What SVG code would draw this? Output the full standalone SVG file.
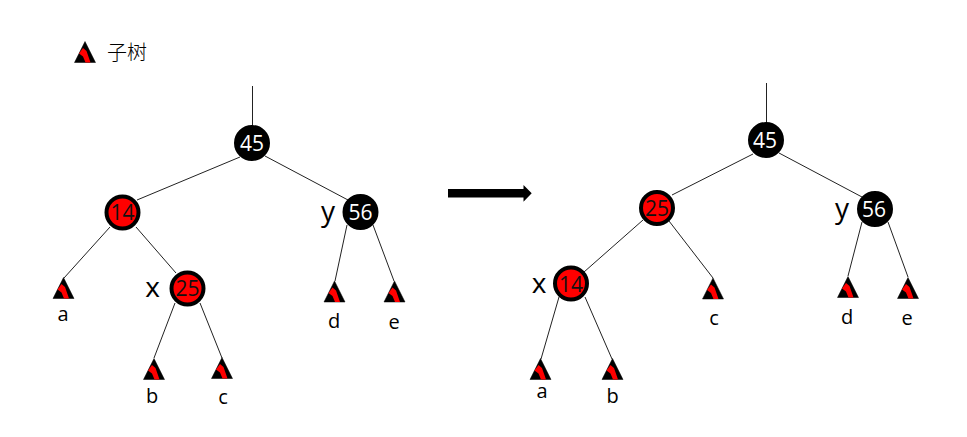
<svg xmlns="http://www.w3.org/2000/svg" width="967" height="437" viewBox="0 0 967 437">
<defs>
<style>
text{font-family:"Open Sans","Noto Sans",sans-serif;text-anchor:middle}
.e{stroke:#222;stroke-width:1;fill:none}
.b{fill:#000;stroke:#000;stroke-width:2}
.r{fill:#f00;stroke:#000;stroke-width:4}
.nt{font-size:21px}
.w{fill:#fff}
.k{fill:#111}
.l{font-size:20px;fill:#000}
.v{font-size:28px;fill:#000}
</style>
<g id="tri">
<path d="M0-10.500L10.500 10.500H-10.500Z" fill="#000" stroke="#000" stroke-width="0.500" stroke-linejoin="round"/>
<path d="M-6 1.500L-2-4L1.500-1L5.500 10.500H0.500L-2 4.500Z" fill="#f00"/>
</g>
</defs>
<rect width="967" height="437" fill="#fff"/>
<g id="connectors">
<path class="e" d="M252.500 86V126M240 157L137 200M265 156L348 200M110 227L64 278M136 227L176 273M175 303L154 358M200 303L222 358M347 225L335 281M373 225L394 281"/>
<path class="e" d="M766.500 83V123M753 154L672 195M779 153L862 197M643 220L584 272M669 221L713 278M559 297L541 359M585 297L612 359M862 222L848 276M888 222L908 277"/>
<path d="M448 189H523.500V185L531.700 193.300L523.500 201.700V197.500H448Z" fill="#000"/>
</g>
<g id="legend"><use href="#tri" x="85" y="52"/><text x="127" y="60" font-size="20" style='font-family:"Noto Sans CJK SC",sans-serif;font-weight:300'>子树</text></g>
<g id="n45"><circle class="b" cx="252" cy="143" r="17"/><text class="nt w" x="252" y="150.500">45</text></g>
<g id="n14"><circle class="r" cx="122.500" cy="212.500" r="16"/><text class="nt k" x="122.500" y="220">14</text></g>
<g id="n56"><circle class="b" cx="360.500" cy="212" r="17"/><text class="nt w" x="360.500" y="219.500">56</text><text class="v" x="328" y="221">y</text></g>
<g id="n25"><circle class="r" cx="187.500" cy="288.500" r="16"/><text class="nt k" x="187.500" y="296">25</text><text class="v" x="152.500" y="297">x</text></g>
<g id="ta"><use href="#tri" x="63.500" y="288"/><text class="l" x="63" y="321">a</text></g>
<g id="tb"><use href="#tri" x="154" y="369"/><text class="l" x="152" y="403">b</text></g>
<g id="tc"><use href="#tri" x="222" y="368"/><text class="l" x="223" y="404">c</text></g>
<g id="td"><use href="#tri" x="334.500" y="291.500"/><text class="l" x="334" y="328">d</text></g>
<g id="te"><use href="#tri" x="394.500" y="291.500"/><text class="l" x="394" y="329">e</text></g>
<g id="m45"><circle class="b" cx="766" cy="140" r="17"/><text class="nt w" x="765" y="147.500">45</text></g>
<g id="m25"><circle class="r" cx="657" cy="208" r="16"/><text class="nt k" x="657" y="215.500">25</text></g>
<g id="m56"><circle class="b" cx="875" cy="209" r="17"/><text class="nt w" x="874" y="216.500">56</text><text class="v" x="842" y="218">y</text></g>
<g id="m14"><circle class="r" cx="571" cy="283.500" r="16"/><text class="nt k" x="571" y="291.500">14</text><text class="v" x="539" y="293">x</text></g>
<g id="ma"><use href="#tri" x="540.500" y="369"/><text class="l" x="542" y="398">a</text></g>
<g id="mb"><use href="#tri" x="612.500" y="369"/><text class="l" x="612.500" y="402.500">b</text></g>
<g id="mc"><use href="#tri" x="713" y="288.500"/><text class="l" x="714" y="325">c</text></g>
<g id="md"><use href="#tri" x="848" y="287"/><text class="l" x="847" y="324">d</text></g>
<g id="me"><use href="#tri" x="908" y="288"/><text class="l" x="907" y="325">e</text></g>
</svg>
